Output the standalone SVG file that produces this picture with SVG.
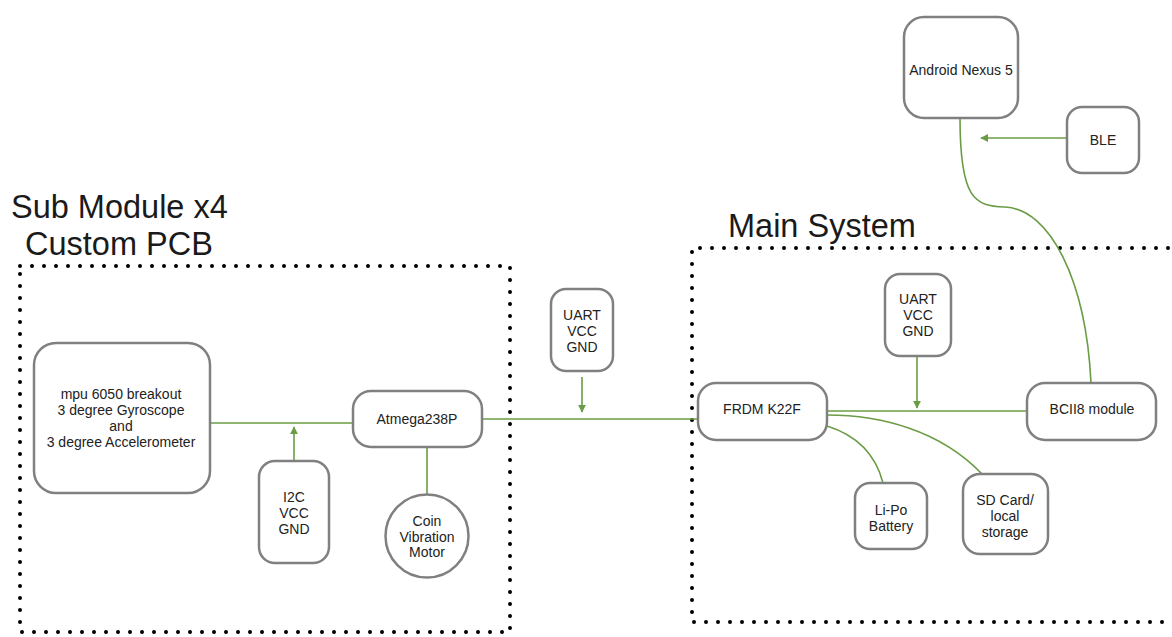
<svg xmlns="http://www.w3.org/2000/svg" width="1172" height="637" viewBox="0 0 1172 637">
<defs>
<style>
.box{fill:#fff;stroke:#808080;stroke-width:2.5}
.t{font-family:"Liberation Sans",Arial,sans-serif;font-size:14px;fill:#222;text-anchor:middle}
.title{font-family:"Liberation Sans",Arial,sans-serif;font-size:32.5px;fill:#1a1a1a}
.dot{fill:none;stroke:#000;stroke-width:4;stroke-linecap:round;stroke-dasharray:0 12}
.c{fill:none;stroke:#6a9c45;stroke-width:1.6}
</style>
<marker id="ah" viewBox="0 0 10 10" refX="9" refY="5" markerWidth="8" markerHeight="8" markerUnits="userSpaceOnUse" orient="auto">
<path d="M0,0 L10,5 L0,10 z" fill="#6a9c45"/>
</marker>
</defs>
<rect width="1172" height="637" fill="#fff"/>
<g id="sub-module-group">
<path class="dot" d="M20,266 H510 V632 H20 Z"/>
<text class="title" x="11" y="218">Sub Module x4</text>
<text class="title" x="25" y="255">Custom PCB</text>
</g>
<g id="main-system-group">
<path class="dot" d="M1180,248 H692 V622 H1180"/>
<text class="title" x="728" y="237">Main System</text>
</g>
<g id="connectors">
<path class="c" d="M210,423 H357"/>
<path class="c" d="M294,461 V427" marker-end="url(#ah)"/>
<path class="c" d="M427,447 V494"/>
<path class="c" d="M482,419 H700"/>
<path class="c" d="M582,377 V412" marker-end="url(#ah)"/>
<path class="c" d="M820,411 H1027"/>
<path class="c" d="M917,356 V408" marker-end="url(#ah)"/>
<path class="c" d="M827,426 Q872,440 883,483"/>
<path class="c" d="M827,415 C880,415 940,430 982,474"/>
<path class="c" d="M1066,138 H981" marker-end="url(#ah)"/>
<path class="c" d="M960,118 C960,200 975,206 1005,207 C1050,209 1086,280 1091,383"/>
</g>
<g id="mpu">
<rect class="box" x="34" y="343" width="176" height="150" rx="22"/>
<text class="t" x="121" y="399">mpu 6050 breakout</text>
<text class="t" x="121" y="415">3 degree Gyroscope</text>
<text class="t" x="121" y="431">and</text>
<text class="t" x="121" y="447">3 degree Accelerometer</text>
</g>
<g id="atmega">
<rect class="box" x="353" y="391" width="129" height="56" rx="18"/>
<text class="t" x="417" y="424">Atmega238P</text>
</g>
<g id="i2c">
<rect class="box" x="259" y="461" width="70" height="102" rx="16"/>
<text class="t" x="294" y="502">I2C</text>
<text class="t" x="294" y="518">VCC</text>
<text class="t" x="294" y="534">GND</text>
</g>
<g id="coin">
<circle class="box" cx="427" cy="536" r="41.5"/>
<text class="t" x="427" y="526">Coin</text>
<text class="t" x="427" y="542">Vibration</text>
<text class="t" x="427" y="557">Motor</text>
</g>
<g id="uart1">
<rect class="box" x="551" y="289" width="62" height="82" rx="15"/>
<text class="t" x="582" y="320">UART</text>
<text class="t" x="582" y="336">VCC</text>
<text class="t" x="582" y="352">GND</text>
</g>
<g id="frdm">
<rect class="box" x="698" y="383" width="129" height="57" rx="18"/>
<text class="t" x="762" y="414">FRDM K22F</text>
</g>
<g id="uart2">
<rect class="box" x="885" y="274" width="66" height="82" rx="15"/>
<text class="t" x="918" y="304">UART</text>
<text class="t" x="918" y="320">VCC</text>
<text class="t" x="918" y="336">GND</text>
</g>
<g id="bcii8">
<rect class="box" x="1027" y="383" width="129" height="57" rx="18"/>
<text class="t" x="1092" y="414">BCII8 module</text>
</g>
<g id="lipo">
<rect class="box" x="855" y="483" width="72" height="66" rx="15"/>
<text class="t" x="891" y="515">Li-Po</text>
<text class="t" x="891" y="531">Battery</text>
</g>
<g id="sdcard">
<rect class="box" x="963" y="474" width="85" height="80" rx="17"/>
<text class="t" x="1005" y="505">SD Card/</text>
<text class="t" x="1005" y="521">local</text>
<text class="t" x="1005" y="537">storage</text>
</g>
<g id="android">
<rect class="box" x="904" y="17" width="114" height="101" rx="20"/>
<text class="t" x="961" y="75">Android Nexus 5</text>
</g>
<g id="ble">
<rect class="box" x="1067" y="107" width="72" height="66" rx="15"/>
<text class="t" x="1103" y="145">BLE</text>
</g>
</svg>
